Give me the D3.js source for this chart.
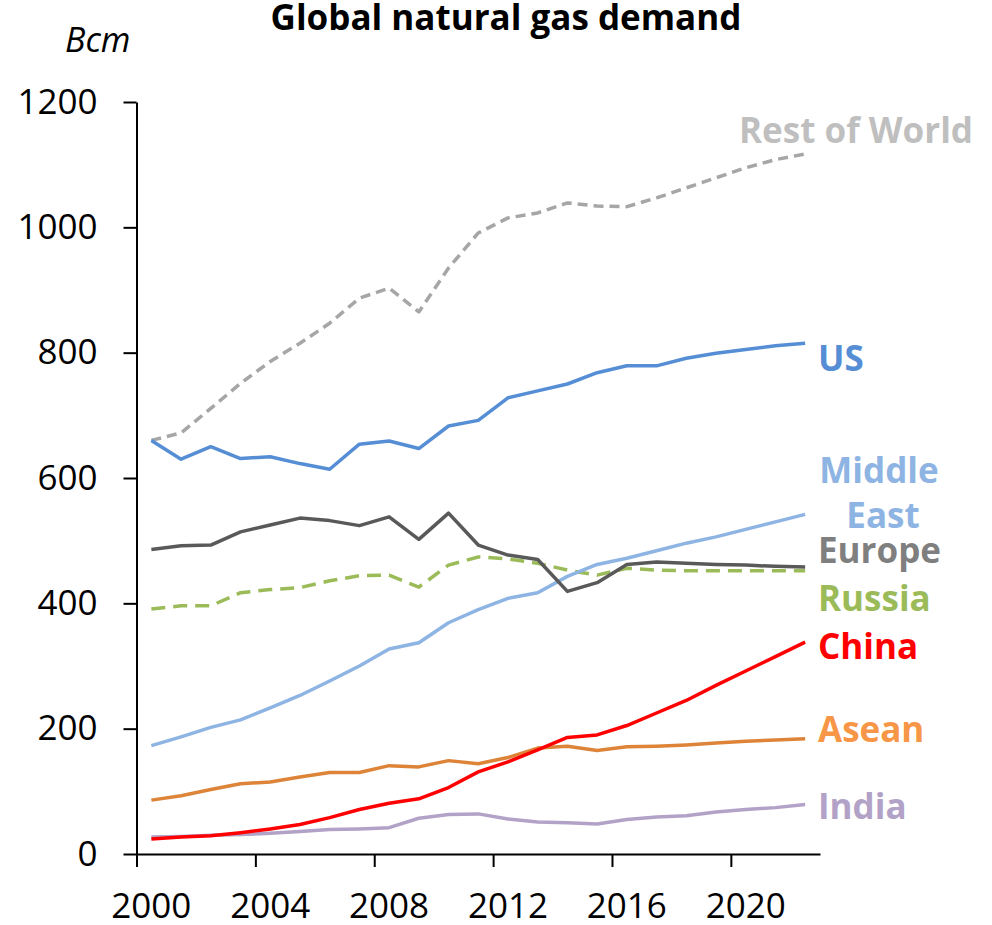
<!DOCTYPE html>
<html>
<head>
<meta charset="utf-8">
<script src="https://cdn.jsdelivr.net/npm/d3@7"></script>
<style>
  body { margin: 0; background: #fff; }
  svg text { font-family: "Open Sans", "Noto Sans", sans-serif; }
</style>
</head>
<body>
<div id="chart"></div>
<script>
// Global natural gas demand by region, 2000-2022 (Bcm)
const years = d3.range(2000, 2023);
const tickLabels = ["2000", "2004", "2008", "2012", "2016", "2020"];
const yTicks = [0, 200, 400, 600, 800, 1000, 1200];

const restOfWorld = [660, 672, 711, 751, 786, 815, 847, 887, 903, 865, 935, 991, 1015, 1023, 1039, 1034, 1033, 1047, 1063, 1079, 1095, 1108, 1117];
const us          = [660, 630, 650, 631, 634, 623, 614, 654, 659, 647, 683, 692, 728, 739, 750, 768, 779, 779, 791, 799, 805, 811, 815];
const middleEast  = [173, 187, 202, 214, 233, 253, 276, 300, 327, 337, 369, 390, 408, 417, 443, 462, 472, 484, 496, 506, 518, 530, 542];
const europe      = [486, 492, 493, 514, 525, 536, 532, 524, 538, 502, 544, 493, 477, 470, 419, 433, 462, 466, 464, 462, 461, 459, 458];
const russia      = [391, 396, 396, 417, 422, 425, 436, 444, 445, 426, 461, 474, 471, 464, 453, 445, 456, 453, 452, 452, 452, 452, 452];
const china       = [24, 27, 29, 34, 40, 47, 58, 71, 81, 88, 106, 131, 147, 166, 186, 190, 205, 225, 245, 269, 292, 315, 338];
const asean       = [86, 93, 103, 112, 115, 123, 130, 130, 141, 139, 149, 144, 154, 169, 172, 165, 171, 172, 174, 177, 180, 182, 184];
const india       = [27, 28, 30, 31, 33, 36, 39, 40, 42, 57, 63, 64, 56, 51, 50, 48, 55, 59, 61, 67, 71, 74, 79];

const series = [
  { name: "Rest of World", values: restOfWorld, color: "#a6a6a6", labelColor: "#bfbfbf", dash: "10,6", labelY: 143, labelX: 739 },
  { name: "Russia", values: russia, color: "#9bbb59", labelColor: "#9bbb59", dash: "14,8", labelY: 611 },
  { name: "Middle East", values: middleEast, color: "#8db4e2", labelColor: "#8db4e2", labelY: 483 },
  { name: "Europe", values: europe, color: "#595959", labelColor: "#7f7f7f", labelY: 563 },
  { name: "US", values: us, color: "#558ed5", labelColor: "#558ed5", labelY: 371 },
  { name: "Asean", values: asean, color: "#dd8439", labelColor: "#f79646", labelY: 742 },
  { name: "India", values: india, color: "#b3a2c7", labelColor: "#b3a2c7", labelY: 819 },
  { name: "China", values: china, color: "#ff0000", labelColor: "#ff0000", labelY: 659 }
];

const width = 992, height = 925;
const margin = { top: 102, right: 172, bottom: 71, left: 136.5 };

const svg = d3.select("#chart").append("svg")
  .attr("width", width)
  .attr("height", height);

const x = d3.scaleLinear()
  .domain([1999.5, 2022.5])
  .range([margin.left, width - margin.right]);

const y = d3.scaleLinear()
  .domain([0, 1200])
  .range([height - margin.bottom, margin.top]);

// title and unit
svg.append("text")
  .attr("x", 506).attr("y", 30)
  .attr("text-anchor", "middle")
  .attr("font-size", "35px")
  .attr("font-weight", "bold")
  .attr("fill", "#000")
  .text("Global natural gas demand");

svg.append("text")
  .attr("x", 65).attr("y", 52)
  .attr("font-size", "34px")
  .attr("font-style", "italic")
  .attr("fill", "#000")
  .text("Bcm");

// y axis
const yAxis = svg.append("g")
  .attr("transform", `translate(${margin.left},0)`)
  .call(d3.axisLeft(y).tickValues(yTicks).tickFormat(d3.format("d"))
    .tickSize(13).tickSizeOuter(0).tickPadding(26));

yAxis.selectAll("text")
  .attr("font-size", "35px")
  .attr("fill", "#000")
  .attr("font-family", "Open Sans, sans-serif");

// x axis: ticks sit between categories, labels at category centres
const boundaries = [1999.5, 2003.5, 2007.5, 2011.5, 2015.5, 2019.5];
svg.append("g")
  .attr("transform", `translate(0,${y(0)})`)
  .call(d3.axisBottom(x).tickValues(boundaries).tickSize(13).tickSizeOuter(0).tickFormat(""));

svg.selectAll(".x-label")
  .data(tickLabels)
  .enter()
  .append("text")
  .attr("class", "x-label")
  .attr("x", d => x(+d))
  .attr("y", 918)
  .attr("text-anchor", "middle")
  .attr("font-size", "35px")
  .attr("fill", "#000")
  .text(d => d);

svg.selectAll(".domain, .tick line")
  .attr("stroke", "#000")
  .attr("stroke-width", 2);

// lines
const line = d3.line()
  .x((d, i) => x(years[i]))
  .y(d => y(d));

svg.selectAll(".series")
  .data(series)
  .enter()
  .append("path")
  .attr("class", "series")
  .attr("fill", "none")
  .attr("stroke", d => d.color)
  .attr("stroke-width", 3.5)
  .attr("stroke-linejoin", "round")
  .attr("stroke-dasharray", d => d.dash || null)
  .attr("d", d => line(d.values));

// end labels
const labelX = 818;
series.forEach(s => {
  const t = svg.append("text")
    .attr("font-size", "35px")
    .attr("font-weight", "bold")
    .attr("fill", s.labelColor);
  if (s.name === "Middle East") {
    t.attr("text-anchor", "middle");
    t.append("tspan").attr("x", 879).attr("y", s.labelY).text("Middle");
    t.append("tspan").attr("x", 883).attr("y", s.labelY + 45).text("East");
  } else {
    t.attr("x", s.labelX || labelX).attr("y", s.labelY).text(s.name);
  }
});
</script>
</body>
</html>
